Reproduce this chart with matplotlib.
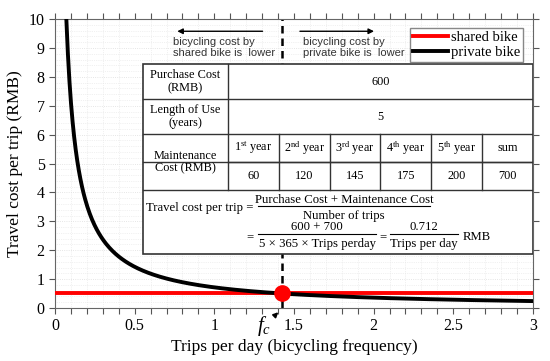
import numpy as np
import matplotlib.pyplot as plt
from matplotlib.patches import Rectangle
from matplotlib.ticker import MultipleLocator

# cost data
purchase_cost = 600
use_years = 5
year_labels = ['1$^{\\mathrm{st}}$ year', '2$^{\\mathrm{nd}}$ year', '3$^{\\mathrm{rd}}$ year',
               '4$^{\\mathrm{th}}$ year', '5$^{\\mathrm{th}}$ year', 'sum']
maintenance = [60, 120, 145, 175, 200, 700]
shared_cost = 0.5
coef = 0.712  # (600 + 700) / (5 * 365)

plt.rcParams['font.family'] = ['Liberation Serif', 'DejaVu Serif']
plt.rcParams['mathtext.fontset'] = 'custom'
plt.rcParams['mathtext.rm'] = 'Liberation Serif'
plt.rcParams['mathtext.it'] = 'Liberation Serif:italic'

fig = plt.figure(figsize=(5.5, 3.61), dpi=100)
ax = fig.add_axes([0.1, 0.147, 0.869, 0.8])

x = np.linspace(coef / 10, 3, 600)
ax.plot(x, coef / x, color='black', lw=2.8, label='private bike', zorder=4)
ax.axhline(shared_cost, color='red', lw=2.8, label='shared bike', zorder=3)
fc = coef / shared_cost
ax.plot([fc, fc], [0, 10], color='black', lw=1.8, ls=(0, (3, 2)), zorder=2)
ax.plot(fc, shared_cost, 'o', color='red', ms=11, zorder=6)

ax.set_xlim(0, 3)
ax.set_ylim(0, 10)
ax.xaxis.set_minor_locator(MultipleLocator(0.1))
ax.yaxis.set_major_locator(MultipleLocator(1))
ax.yaxis.set_minor_locator(MultipleLocator(0.2))
ax.set_xticks([0, 0.5, 1, 1.5, 2, 2.5, 3])
ax.set_xticklabels(['0', '0.5', '1', '1.5', '2', '2.5', '3'])
ax.tick_params(which='both', direction='out', top=True, right=True, labelsize=11.5,
               color='#555555', length=4, width=0.8)
ax.tick_params(axis='y', which='minor', length=0)
ax.grid(which='major', axis='y', color='#dddddd', lw=0.6, ls=':')
ax.grid(which='minor', color='#e4e4e4', lw=0.5, ls=':')
for s in ax.spines.values():
    s.set_color('#666666')
    s.set_linewidth(0.8)

ax.set_xlabel('Trips per day (bicycling frequency)', fontsize=12.5, labelpad=3)
ax.set_ylabel('Travel cost per trip (RMB)', fontsize=12.5, labelpad=4)

# f_c marker
ax.text(1.31, -0.62, '$f_c$', fontsize=15, ha='center', va='center', clip_on=False,
        fontfamily='DejaVu Serif')
ax.annotate('', xy=(fc - 0.01, -0.08), xytext=(1.37, -0.32),
            arrowprops=dict(arrowstyle='-|>', color='black', lw=1.2, mutation_scale=7),
            annotation_clip=False)

# direction arrows
sf = dict(fontsize=8, fontfamily='Liberation Sans', color='#333333', ha='left',
          va='center', linespacing=1.15)
ax.annotate('', xy=(0.75, 9.58), xytext=(1.32, 9.58),
            arrowprops=dict(arrowstyle='-|>', color='black', lw=1.0, mutation_scale=8))
ax.text(0.74, 9.02, 'bicycling cost by\nshared bike is  lower', **sf)
ax.annotate('', xy=(2.02, 9.58), xytext=(1.52, 9.58),
            arrowprops=dict(arrowstyle='-|>', color='black', lw=1.0, mutation_scale=8))
ax.text(1.555, 9.02, 'bicycling cost by\nprivate bike is  lower', **sf)

leg = ax.legend(handles=ax.lines[1:2] + ax.lines[0:1], loc='upper right',
                bbox_to_anchor=(0.98, 0.97), fontsize=10.5, handlelength=2.4,
                handletextpad=0.2, borderpad=0.2, labelspacing=0.15, fancybox=False,
                framealpha=1, edgecolor='#888888', borderaxespad=0)
leg.set_zorder(7)

# table in data coordinates
x0, x1, xr = 0.552, 1.086, 3.0
rows = [8.44, 7.23, 6.02, 5.05, 4.08, 1.87]
tk = dict(color='#333333', lw=1.0, zorder=8)
ax.add_patch(Rectangle((x0, rows[-1]), xr - x0, rows[0] - rows[-1], facecolor='white',
                       edgecolor='#333333', lw=1.2, zorder=7))
for y in rows[1:-1]:
    ax.plot([x0, xr], [y, y], **tk)
ax.plot([x1, x1], [rows[4], rows[0]], **tk)
cw = (xr - x1) / 6
for i in range(1, 6):
    ax.plot([x1 + i * cw] * 2, [rows[4], rows[2]], **tk)
ax.plot([x1, xr], [rows[3], rows[3]], **tk)

fs = 8.8
c0 = (x0 + x1) / 2
ax.text(c0, (rows[0] + rows[1]) / 2, 'Purchase Cost\n(RMB)', fontsize=fs, ha='center',
        va='center', zorder=9, linespacing=1.1)
ax.text(c0, (rows[1] + rows[2]) / 2, 'Length of Use\n(years)', fontsize=fs, ha='center',
        va='center', zorder=9, linespacing=1.1)
ax.text(c0, (rows[2] + rows[4]) / 2, 'Maintenance\nCost (RMB)', fontsize=fs, ha='center',
        va='center', zorder=9, linespacing=1.1)
ax.text((x1 + xr) / 2, (rows[0] + rows[1]) / 2, str(purchase_cost), fontsize=fs,
        ha='center', va='center', zorder=9)
ax.text((x1 + xr) / 2, (rows[1] + rows[2]) / 2, str(use_years), fontsize=fs,
        ha='center', va='center', zorder=9)
for i, (lab, v) in enumerate(zip(year_labels, maintenance)):
    cx = x1 + (i + 0.5) * cw
    ax.text(cx, (rows[2] + rows[3]) / 2, lab, fontsize=fs, ha='center', va='center', zorder=9)
    ax.text(cx, (rows[3] + rows[4]) / 2, str(v), fontsize=fs, ha='center', va='center', zorder=9)

# formula
ff = dict(fontsize=9.2, zorder=9)
ax.text(1.245, 3.46, 'Travel cost per trip =', ha='right', va='center', **ff)
ax.text(1.814, 3.74, 'Purchase Cost + Maintenance Cost', ha='center', va='center', **ff)
ax.plot([1.274, 2.354], [3.53, 3.53], color='black', lw=0.8, zorder=9)
ax.text(1.814, 3.2, 'Number of trips', ha='center', va='center', **ff)
ax.text(1.245, 2.46, '=', ha='right', va='center', **ff)
ax.text(1.645, 2.79, '600 + 700', ha='center', va='center', **ff)
ax.plot([1.274, 2.015], [2.55, 2.55], color='black', lw=0.8, zorder=9)
ax.text(1.645, 2.23, '5 × 365 × Trips perday', ha='center', va='center', **ff)
ax.text(2.06, 2.46, '=', ha='center', va='center', **ff)
ax.text(2.315, 2.79, '0.712', ha='center', va='center', **ff)
ax.plot([2.10, 2.53], [2.55, 2.55], color='black', lw=0.8, zorder=9)
ax.text(2.315, 2.23, 'Trips per day', ha='center', va='center', **ff)
ax.text(2.56, 2.46, 'RMB', ha='left', va='center', **ff)

fig.savefig('out.png', dpi=100)
